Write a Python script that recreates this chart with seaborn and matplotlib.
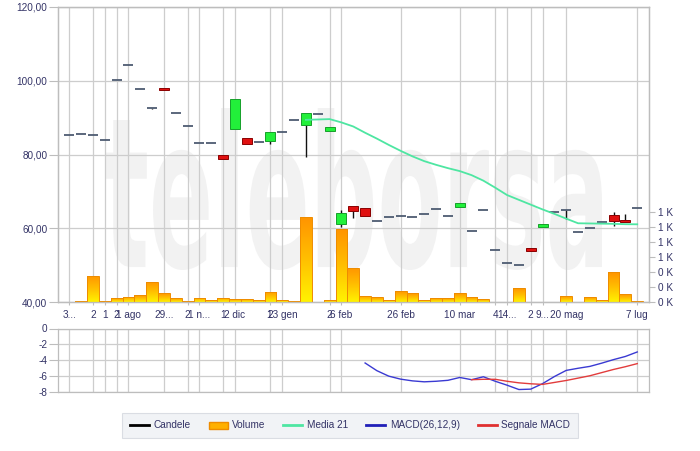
import numpy as np
import matplotlib
matplotlib.use("Agg")
import matplotlib.pyplot as plt
import seaborn as sns
from matplotlib.colors import LinearSegmentedColormap
from matplotlib.lines import Line2D
from matplotlib.patches import Patch, PathPatch
from matplotlib.textpath import TextPath
from matplotlib.font_manager import FontProperties
from matplotlib.transforms import Affine2D

# ---------------- data ----------------
opens = [85.3, 85.6, 85.3, 84.0, 100.1, 104.2, 97.8, 92.5, 98.1, 91.3,
         87.8, 83.0, 83.0, 79.8, 87.0, 84.6, 83.3, 83.7, 86.0, 89.3,
         87.9, 91.1, 86.5, 61.2, 65.9, 65.6, 62.05, 63.1, 63.4, 63.1,
         63.95, 65.2, 63.3, 65.7, 59.25, 64.9, 54.0, 50.7, 49.95, 54.6,
         60.3, 64.5, 65.0, 59.1, 60.05, 61.7, 63.5, 62.2, 65.6]
highs = [85.3, 85.6, 85.3, 84.0, 100.1, 104.2, 97.8, 92.7, 98.1, 91.3,
         87.8, 83.0, 83.0, 79.8, 95.1, 84.6, 83.3, 86.0, 86.0, 89.3,
         91.3, 91.1, 87.4, 64.9, 66.0, 65.6, 62.05, 63.1, 63.4, 63.1,
         63.95, 65.2, 63.3, 66.8, 59.25, 64.9, 54.0, 50.7, 49.95, 54.6,
         61.1, 64.5, 65.0, 59.1, 60.05, 61.7, 64.3, 63.8, 65.6]
lows = [85.3, 85.6, 85.3, 84.0, 100.1, 104.2, 97.8, 92.3, 97.5, 91.3,
        87.8, 83.0, 83.0, 78.9, 87.0, 82.9, 83.3, 82.9, 86.0, 89.3,
        79.4, 91.1, 86.5, 60.4, 62.7, 63.3, 62.05, 63.1, 63.4, 63.1,
        63.95, 65.2, 63.3, 65.7, 59.25, 64.9, 54.0, 50.7, 49.95, 53.8,
        60.3, 64.5, 62.6, 59.1, 60.05, 61.7, 60.5, 61.6, 65.6]
closes = [85.3, 85.6, 85.3, 84.0, 100.1, 104.2, 97.8, 92.5, 97.5, 91.3,
          87.8, 83.0, 83.0, 78.9, 95.1, 82.9, 83.3, 86.0, 86.0, 89.3,
          91.3, 91.1, 87.4, 64.1, 64.6, 63.3, 62.05, 63.1, 63.4, 63.1,
          63.95, 65.2, 63.3, 66.8, 59.25, 64.9, 54.0, 50.7, 49.95, 53.8,
          61.1, 64.5, 65.0, 59.1, 60.05, 61.7, 62.05, 61.6, 65.6]
volume = [6, 8, 348, 8, 49, 71, 93, 268, 120, 49,
          10, 58, 22, 58, 36, 36, 22, 134, 27, 10,
          1141, 6, 22, 973, 459, 84, 62, 27, 147, 120,
          27, 49, 49, 120, 62, 36, 6, 6, 187, 6,
          6, 6, 76, 6, 62, 27, 397, 107, 10]
ma21_start = 20
ma21 = [89.4, 89.5, 89.6, 88.7, 87.6, 85.9, 84.3, 82.6, 81.0, 79.5,
        78.2, 77.2, 76.3, 75.5, 74.4, 72.9, 71.0, 69.0, 67.7, 66.4,
        65.1, 63.9, 62.6, 61.35, 61.3, 61.25, 61.2, 61.1, 61.07]
macd_start = 25
macd = [-4.38, -5.36, -6.05, -6.43, -6.65, -6.77, -6.7, -6.58, -6.22, -6.5,
        -6.13, -6.7, -7.2, -7.75, -7.7, -7.0, -6.1, -5.32, -5.05, -4.81,
        -4.4, -3.95, -3.55, -2.98]
signal_start = 34
signal = [-6.5, -6.45, -6.45, -6.7, -6.9, -7.02, -7.1, -6.85, -6.6, -6.3,
          -6.0, -5.6, -5.2, -4.85, -4.46]

tick_pos = [0, 2, 3, 4, 5, 8, 10, 11, 13, 14, 17, 18, 22, 23, 28, 33, 36, 37, 39, 40, 42, 48]
tick_labels = ["3...", "2", "1", "2", "1 ago", "29...", "2", "1 n...", "1", "2 dic",
               "2", "13 gen", "2", "6 feb", "26 feb", "10 mar", "4", "14...", "2", "9...",
               "20 mag", "7 lug"]
price_ticks = [40, 60, 80, 100, 120]
price_labels = ["40,00", "60,00", "80,00", "100,00", "120,00"]
vol_ticks = [0, 200, 400, 600, 800, 1000, 1200]
vol_labels = ["0 K", "0 K", "0 K", "1 K", "1 K", "1 K", "1 K"]
macd_ticks = [0, -2, -4, -6, -8]
macd_labels = ["0", "-2", "-4", "-6", "-8"]
legend_labels = ["Candele", "Volume", "Media 21", "MACD(26,12,9)", "Segnale MACD"]

# ---------------- style ----------------
plt.rcParams["font.family"] = ["Liberation Sans", "DejaVu Sans"]
plt.rcParams["font.size"] = 7.2
TXT = "#333366"
GRID = "#cdcdcd"
SPINE = "#bdbdbd"

W, H = 700, 451
fig = plt.figure(figsize=(7.0, 4.51), dpi=100)
fig.patch.set_facecolor("white")

L, R = 57.7, 649.3
ax = fig.add_axes([L / W, (H - 302) / H, (R - L) / W, 295 / H])
ax_m = fig.add_axes([L / W, (H - 391.5) / H, (R - L) / W, 63 / H], sharex=ax)
ax.set_facecolor("none")
ax_m.set_facecolor("white")

# watermark
fp = FontProperties(family="DejaVu Sans", weight="bold")
tp = TextPath((0, 0), "teleborsa", size=100, prop=fp)
bb = tp.get_extents()
x0, x1, ytop, ybase = 105, 602, 108, 270
tr = (Affine2D().translate(-bb.x0, -bb.y0)
      .scale((x1 - x0) / bb.width / W, (ybase - ytop) / bb.height / H)
      .translate(x0 / W, (H - ybase) / H) + fig.transFigure)
fig.add_artist(PathPatch(tp, transform=tr, facecolor="#f2f2f2", lw=0, zorder=-5))

idx = np.arange(len(opens))

# ---------------- volume (twin axis) ----------------
ax_v = ax.twinx()
sns.barplot(x=idx, y=volume, native_scale=True, ax=ax_v, width=1.0,
            color="#ffb000", edgecolor="#ee8c00", linewidth=0.7,
            errorbar=None, zorder=2)
cmap = LinearSegmentedColormap.from_list("vol", ["#ff9400", "#ffbf00", "#fff200"])
grad = np.linspace(0, 1, 64)[:, None]
for p in list(ax_v.patches):
    xx, ww, hh = p.get_x(), p.get_width(), p.get_height()
    if hh <= 0:
        continue
    im = ax_v.imshow(grad, extent=[xx, xx + ww, 0, hh], aspect="auto",
                     cmap=cmap, origin="upper", zorder=1.5, interpolation="bilinear")
    im.set_clip_path(p)
    p.set_facecolor("none")

ax_v.set_ylim(0, 1200 * 295 / 89.7)
ax_v.set_yticks(vol_ticks)
ax_v.set_yticklabels(vol_labels)
ax_v.tick_params(axis="y", colors=SPINE, labelcolor=TXT, length=4.5, width=0.8, pad=2)
ax_v.set_ylabel("")
ax_v.set_xlabel("")

# ---------------- candles ----------------
body_w = 0.84
green_f, green_e = "#22f03a", "#16a02a"
red_f, red_e = "#e01010", "#8a0000"
dash_c = "#4e5c72"
for i in idx:
    o, h, l, c = opens[i], highs[i], lows[i], closes[i]
    lo, hi = min(o, c), max(o, c)
    if h > hi + 0.05:
        ax.vlines(i, hi, h, color="#111111", lw=1.0, zorder=3)
    if l < lo - 0.05:
        ax.vlines(i, l, lo, color="#111111", lw=1.0, zorder=3)
    if abs(c - o) < 0.05:
        ax.hlines(o, i - body_w / 2, i + body_w / 2, color=dash_c, lw=1.3, zorder=4)
    else:
        up = c > o
        ax.bar(i, hi - lo, bottom=lo, width=body_w,
               color=green_f if up else red_f,
               edgecolor=green_e if up else red_e, linewidth=0.7, zorder=4)

# moving average
sns.lineplot(x=np.arange(ma21_start, ma21_start + len(ma21)), y=ma21, ax=ax,
             color="#4ee6a2", lw=1.3, zorder=5, legend=False)

ax.set_ylim(40, 120)
ax.set_yticks(price_ticks)
ax.set_yticklabels(price_labels)
ax.set_xticks(tick_pos)
ax.set_xticklabels(tick_labels)
ax.set_xlim(-0.98, 49.02)
ax.set_axisbelow(True)
ax.grid(True, color=GRID, lw=0.9)
ax.tick_params(axis="y", colors=SPINE, labelcolor=TXT, length=6.5, width=0.8, pad=1)
ax.tick_params(axis="x", colors=SPINE, labelcolor=TXT, length=2.5, width=0.8, pad=3)
ax.set_xlabel("")
ax.set_ylabel("")

# ---------------- MACD panel ----------------
sns.lineplot(x=np.arange(macd_start, macd_start + len(macd)), y=macd, ax=ax_m,
             color="#3a3ad2", lw=1.0, legend=False, zorder=3)
sns.lineplot(x=np.arange(signal_start, signal_start + len(signal)), y=signal, ax=ax_m,
             color="#e23c3c", lw=1.0, legend=False, zorder=3)
ax_m.set_ylim(-8, 0)
ax_m.set_yticks(macd_ticks)
ax_m.set_yticklabels(macd_labels)
ax_m.set_axisbelow(True)
ax_m.grid(True, color=GRID, lw=0.9)
ax_m.tick_params(axis="y", colors=SPINE, labelcolor=TXT, length=6.5, width=0.8, pad=1)
ax_m.tick_params(axis="x", length=0, labelbottom=False)
ax_m.set_xlabel("")
ax_m.set_ylabel("")
ax_m.set_xlim(-0.98, 49.02)

for a in (ax, ax_v, ax_m):
    for s in a.spines.values():
        s.set_color(SPINE)
        s.set_linewidth(0.9)

# ---------------- legend ----------------
handles = [Line2D([], [], color="black", lw=2),
           Patch(facecolor="#ffb000", edgecolor="#ee8c00"),
           Line2D([], [], color="#4ee6a2", lw=2),
           Line2D([], [], color="#2020b8", lw=2),
           Line2D([], [], color="#e03030", lw=2)]
leg = fig.legend(handles, legend_labels, loc="center",
                 bbox_to_anchor=(350 / W, (H - 425.5) / H), ncol=5,
                 frameon=True, fancybox=False, handlelength=1.9, handletextpad=0.45,
                 columnspacing=1.8, borderpad=0.75, fontsize=7.2,
                 labelcolor=TXT, facecolor="#eef0f4", edgecolor="#d3d7de")
leg.get_frame().set_linewidth(0.8)

fig.savefig("out.png", dpi=100, facecolor="white")
